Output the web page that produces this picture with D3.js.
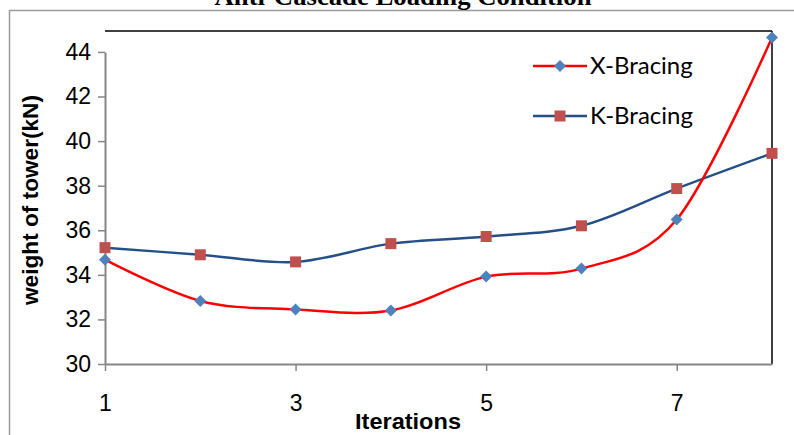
<!DOCTYPE html>
<html><head><meta charset="utf-8">
<script src="https://cdn.jsdelivr.net/npm/d3@7"></script>
<style>body{margin:0;background:#fff;} svg{display:block;}</style>
</head><body>
<svg id="c" width="794" height="435"></svg>
<script>
const iterations = [1, 2, 3, 4, 5, 6, 7, 8];
const xBracing = [34.68, 32.83, 32.45, 32.4, 33.92, 34.28, 36.48, 44.65];
const kBracing = [35.22, 34.9, 34.58, 35.4, 35.72, 36.2, 37.87, 39.45];
const seriesNames = ["X-Bracing", "K-Bracing"];
const yTicks = [30, 32, 34, 36, 38, 40, 42, 44];
const xTicks = [1, 3, 5, 7];
const titleText = "Anti-Cascade Loading Condition";
const xTitle = "Iterations";
const yTitle = "weight of tower(kN)";

const svg = d3.select("#c");
const L = 105, R = 772, T = 31, B = 364;
const x = d3.scaleLinear().domain([1, 8]).range([L, R]);
const y = d3.scaleLinear().domain([30, 44]).range([B, B - 14 * 22.29]);

// outer frame
svg.append("rect").attr("x", 9.5).attr("y", 10.5).attr("width", 800).attr("height", 440)
  .attr("fill", "none").attr("stroke", "#9a9a9a").attr("stroke-width", 1.5);

// title (partly above the top edge, as in the reference)
svg.append("text").attr("x", 403).attr("y", 5).attr("text-anchor", "middle")
  .attr("font-family", "Liberation Serif, Times New Roman, serif").attr("font-weight", "bold")
  .attr("font-size", 26).attr("textLength", 377).attr("lengthAdjust", "spacingAndGlyphs").text(titleText);

// plot frame: top & right black
svg.append("line").attr("x1", L).attr("x2", R).attr("y1", T).attr("y2", T).attr("stroke", "#000").attr("stroke-width", 1.5);
svg.append("line").attr("x1", R).attr("x2", R).attr("y1", T).attr("y2", B).attr("stroke", "#000").attr("stroke-width", 1.5);

// axes
const yAxis = d3.axisLeft(y).tickValues(yTicks).tickFormat(d3.format("d")).tickSize(7).tickPadding(7).tickSizeOuter(0);
const gy = svg.append("g").attr("transform", `translate(${L},0)`).call(yAxis);
const xAxis = d3.axisBottom(x).tickValues(xTicks).tickFormat(d3.format("d")).tickSize(7).tickPadding(24).tickSizeOuter(0);
const gx = svg.append("g").attr("transform", `translate(0,${B})`).call(xAxis);
[gx, gy].forEach(g => {
  g.select(".domain").attr("stroke", "#868686").attr("stroke-width", 2);
  g.selectAll(".tick line").attr("stroke", "#868686").attr("stroke-width", 1.5);
  g.selectAll(".tick text").attr("fill", "#000").attr("font-family", "Liberation Sans, Arial, sans-serif").attr("font-size", 23);
});

// axis titles
svg.append("text").attr("x", 408).attr("y", 429).attr("text-anchor", "middle")
  .attr("font-family", "Liberation Sans Narrow, Liberation Sans, Arial, sans-serif").attr("font-weight", "bold")
  .attr("font-size", 22).attr("textLength", 106).attr("lengthAdjust", "spacingAndGlyphs").text(xTitle);
svg.append("text").attr("transform", "translate(38,200) rotate(-90)").attr("text-anchor", "middle")
  .attr("font-family", "Liberation Sans, Arial, sans-serif").attr("font-weight", "bold")
  .attr("font-size", 22).attr("textLength", 210).attr("lengthAdjust", "spacingAndGlyphs").text(yTitle);

const line = d3.line().x((d, i) => x(iterations[i])).y(d => y(d)).curve(d3.curveCatmullRom.alpha(0));

const series = [
  {name: seriesNames[0], values: xBracing, color: "#FF0000", marker: "diamond", mcolor: "#4F81BD"},
  {name: seriesNames[1], values: kBracing, color: "#254F87", marker: "square", mcolor: "#C0504D"}
];

[series[1], series[0]].forEach(s => {
  svg.append("path").attr("d", line(s.values)).attr("fill", "none").attr("stroke", s.color).attr("stroke-width", 2.5);
});
function marker(s, cx, cy) {
  if (s.marker === "diamond") {
    svg.append("path").attr("d", `M${cx},${cy-6}L${cx+6},${cy}L${cx},${cy+6}L${cx-6},${cy}Z`).attr("fill", s.mcolor);
  } else {
    svg.append("rect").attr("x", cx - 5.5).attr("y", cy - 5.5).attr("width", 11).attr("height", 11).attr("fill", s.mcolor);
  }
}
[series[1], series[0]].forEach(s => {
  s.values.forEach((v, i) => marker(s, x(iterations[i]), y(v)));
});

// legend
series.forEach((s, i) => {
  const ly = 66 + i * 50;
  svg.append("line").attr("x1", 533).attr("x2", 587).attr("y1", ly).attr("y2", ly).attr("stroke", s.color).attr("stroke-width", 2.5);
  marker(s, 560, ly);
  svg.append("text").attr("x", 590).attr("y", ly + 8).attr("font-family", "Lato, Open Sans, sans-serif")
    .attr("font-size", 24).attr("fill", "#000").text(s.name);
});
</script>
</body></html>
